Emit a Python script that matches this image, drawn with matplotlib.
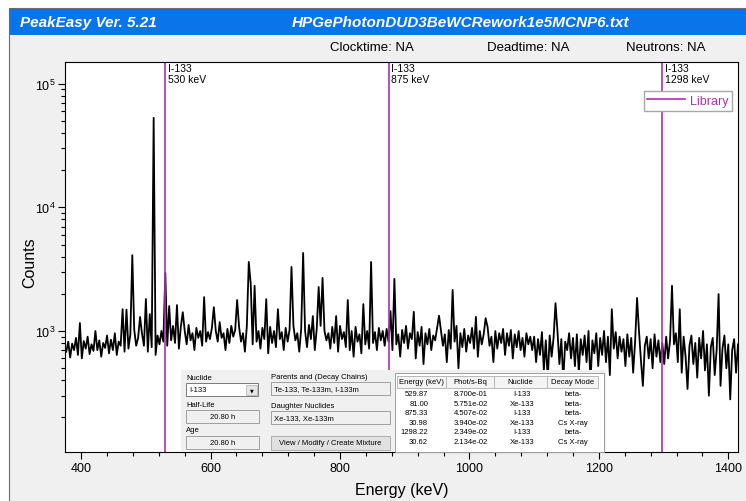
import numpy as np
import matplotlib
matplotlib.use('Agg')
import matplotlib.pyplot as plt
from matplotlib.patches import Rectangle
from matplotlib.lines import Line2D
from matplotlib.ticker import MultipleLocator, LogLocator, NullFormatter

plt.rcParams['font.family'] = ['Liberation Sans', 'DejaVu Sans']
plt.rcParams['mathtext.default'] = 'regular'

# spectrum, 3 keV bins from 377 keV
E_START = 377
E_STEP = 3
baseline_counts = [
    # 377 - 497
    680, 820, 610, 790, 700, 880, 640, 760, 600, 830,
    720, 900, 650, 780, 690, 1000, 700, 840, 620, 800,
    730, 920, 660, 850, 700, 960, 640, 820, 760, 1050,
    680, 880, 720, 940, 650, 1020, 760, 880, 700, 950,
    # 497 - 527
    760, 900, 680, 980, 740, 880, 640, 920, 780, 1000,
    # 527 - 875
    820, 1040, 760, 1000, 840, 1100, 800, 960, 720, 1080, 860, 1000,
    780, 1120, 840, 960, 700, 1060, 880, 1000, 760, 1140, 820, 980,
    860, 1060, 740, 1000, 820, 1180, 880, 960, 700, 1040, 800, 1100,
    900, 1020, 760, 1080, 820, 960, 680, 1100, 880, 1000, 780, 1140,
    820, 1000, 720, 1060, 860, 940, 660, 1080, 800, 1000, 740, 1120,
    860, 980, 700, 1060, 820, 1020, 760, 1100, 840, 960, 680, 1040,
    800, 1000, 740, 1120, 860, 960, 700, 1040, 780, 1100, 640, 1000,
    840, 960, 720, 1080, 800, 1020, 680, 1100, 860, 980, 740, 1040,
    700, 1000, 620, 1080, 820, 940, 660, 1060, 780, 1000, 720, 1120,
    800, 980, 700, 1060, 840, 1000, 760, 1040,
    # 875 - 1097
    820, 1000, 700, 1060, 780, 940, 620, 1020, 800, 1100, 720, 960,
    860, 1000, 600, 980, 760, 1080, 540, 960, 780, 1040, 700, 920,
    840, 1060, 680, 1000, 760, 940, 560, 1020, 720, 980, 820, 1100,
    500, 960, 740, 1040, 680, 920, 800, 1060, 720, 980, 620, 1000,
    780, 940, 660, 1080, 760, 900, 560, 1000, 720, 960, 800, 1040,
    640, 960, 760, 1020, 600, 940, 740, 1000, 700, 880, 620, 960,
    780, 900,
    # 1097 - 1295
    700, 900, 560, 860, 640, 980, 480, 840, 400, 920, 620, 880,
    680, 1000, 540, 860, 400, 820, 700, 960, 600, 880, 520, 940,
    460, 860, 640, 920, 560, 1000, 380, 840, 660, 960, 520, 880,
    640, 1000, 560, 900, 440, 820, 720, 980, 600, 900, 680, 860,
    520, 940, 620, 880, 460, 820, 700, 1000, 580, 360, 760, 900,
    600, 860, 500, 940, 620, 840, 560,
    # 1298 - 1415
    800, 540, 900, 600, 840, 400, 780, 960, 560, 820, 460, 900,
    620, 340, 760, 920, 540, 800, 420, 880, 600, 1000, 480, 780,
    300, 740, 880, 440, 700, 840, 360, 720, 920, 500, 780, 280,
    700, 860, 460, 780,
]
peak_energies = [398, 465, 471, 478, 491, 499, 505, 511, 531, 536, 548, 556,
                 591, 604, 642, 659, 662, 669, 687, 703, 726, 744, 758, 766,
                 774, 795, 811, 837, 848, 877, 885, 913, 954, 974, 1010, 1025,
                 1132, 1221, 1260, 1314, 1325, 1384]
peak_counts = [1160, 1500, 1490, 4100, 1300, 1815, 1370, 53000, 2950, 1590, 1620, 1420,
               1880, 1560, 1780, 3620, 2400, 2320, 1810, 1500, 3300, 4280, 1320, 2270,
               2690, 1320, 1780, 1650, 3620, 1450, 2640, 1430, 1330, 2150, 1300, 1270,
               1680, 1500, 1850, 2320, 1500, 1990]

library_nuclide = 'I-133'
library_energies = [530, 875, 1298]

# library table in the bottom panel
table_header = ['Energy (keV)', 'Phot/s-Bq', 'Nuclide', 'Decay Mode']
table_energy = ['529.87', '81.00', '875.33', '30.98', '1298.22', '30.62']
table_phot = ['8.700e-01', '5.751e-02', '4.507e-02', '3.940e-02', '2.349e-02', '2.134e-02']
table_nuclide = ['I-133', 'Xe-133', 'I-133', 'Xe-133', 'I-133', 'Xe-133']
table_mode = ['beta-', 'beta-', 'beta-', 'Cs X-ray', 'beta-', 'Cs X-ray']

LIB = '#B02EB0'
W, H = 746, 502

energies = E_START + E_STEP * np.arange(len(baseline_counts))
counts = np.array(baseline_counts, dtype=float)
for e, c in zip(peak_energies, peak_counts):
    i = int(round((e - E_START) / E_STEP))
    counts[i] = c

fig = plt.figure(figsize=(W / 100, H / 100), dpi=100, facecolor='#F0F0F0')
ax = fig.add_axes([65 / W, 1 - 453 / H, (738 - 65) / W, (453 - 63) / H])

ax.plot(energies, counts, color='black', lw=1.3)
for e in library_energies:
    ax.axvline(e, color=LIB, lw=1.2)
    ax.annotate(f'{library_nuclide}\n{e} keV', xy=(e, 1), xycoords=('data', 'axes fraction'),
                xytext=(2, -1), textcoords='offset points', ha='left', va='top',
                fontsize=7.5, linespacing=1.05)

ax.set_yscale('log')
ax.set_xlim(375, 1415)
ax.set_ylim(105, 150000)
ax.xaxis.set_major_locator(MultipleLocator(200))
ax.xaxis.set_minor_locator(MultipleLocator(40))
ax.yaxis.set_major_locator(LogLocator(base=10))
ax.yaxis.set_minor_locator(LogLocator(base=10, subs=np.arange(2, 10)))
ax.yaxis.set_minor_formatter(NullFormatter())
ax.tick_params(which='major', length=5, width=0.8, labelsize=9, pad=2)
ax.tick_params(which='minor', length=3, width=0.8)
for s in ax.spines.values():
    s.set_linewidth(0.8)

leg = ax.legend(handles=[Line2D([], [], color=LIB, lw=1.2)], labels=['Library'],
                loc='upper right', bbox_to_anchor=((732 - 65) / 673, (453 - 92) / 390),
                borderaxespad=0, fancybox=False, edgecolor='#A8A8A8', framealpha=1,
                fontsize=9, handlelength=3.0, borderpad=0.3, handletextpad=0.4)
for t in leg.get_texts():
    t.set_color(LIB)

# window chrome, drawn in pixel coordinates on top
ov = fig.add_axes([0, 0, 1, 1], zorder=10)
ov.set_xlim(0, W)
ov.set_ylim(H, 0)
ov.axis('off')

ov.add_patch(Rectangle((0, 0), W, 9, fc='white', ec='none'))
ov.add_patch(Rectangle((0, 0), 9, H, fc='white', ec='none'))
ov.plot([8.5, 8.5, W], [H, 8.5, 8.5], color='#6A6A6A', lw=0.8)
ov.add_patch(Rectangle((9, 9), W - 9, 27, fc='#0A74EA', ec='none'))
ov.text(20, 23, 'PeakEasy Ver. 5.21', color='white', fontsize=11, fontweight='bold',
        fontstyle='italic', va='center', ha='left')
ov.text(461, 23, 'HPGePhotonDUD3BeWCRework1e5MCNP6.txt', color='white', fontsize=11,
        fontweight='bold', fontstyle='italic', va='center', ha='center')
for x, s in [(330, 'Clocktime: NA'), (487, 'Deadtime: NA'), (626, 'Neutrons: NA')]:
    ov.text(x, 48, s, fontsize=9.5, va='center', ha='left')

ov.text(30, 263, 'Counts', rotation=90, fontsize=11.5, ha='center', va='center')
ov.text(402, 491, 'Energy (keV)', fontsize=11.5, ha='center', va='center')

# nuclide panel
fs = 5.5
ov.add_patch(Rectangle((181, 371), 425, 81.5, fc='#F0F0F0', ec='none'))


def box(x, y, w, h, fc='#F0F0F0', ec='#A0A0A0'):
    ov.add_patch(Rectangle((x, y), w, h, fc=fc, ec=ec, lw=0.7))


ov.text(186, 379, 'Nuclide', fontsize=fs, va='center')
box(186, 384, 72, 13, fc='white', ec='#7A7A7A')
ov.text(189, 390.5, 'I-133', fontsize=fs, va='center')
box(246, 385.5, 11, 10, fc='#E6E6E6', ec='#C0C0C0')
ov.text(251.5, 390.5, '\u25bc', fontsize=3.5, va='center', ha='center', family='DejaVu Sans')
ov.text(186, 406, 'Half-Life', fontsize=fs, va='center')
box(186, 411, 73, 13)
ov.text(222.5, 417.5, '20.80 h', fontsize=fs, va='center', ha='center')
ov.text(186, 431, 'Age', fontsize=fs, va='center')
box(186, 437, 73, 13)
ov.text(222.5, 443.5, '20.80 h', fontsize=fs, va='center', ha='center')

ov.text(271, 378, 'Parents and (Decay Chains)', fontsize=fs, va='center')
box(271, 383, 119, 13)
ov.text(274, 389.5, 'Te-133, Te-133m, I-133m', fontsize=fs, va='center')
ov.text(271, 407, 'Daughter Nuclides', fontsize=fs, va='center')
box(271, 412, 119, 13)
ov.text(274, 418.5, 'Xe-133, Xe-133m', fontsize=fs, va='center')
box(271, 437, 119, 14, fc='#E1E1E1', ec='#ADADAD')
ov.text(330.5, 444, 'View / Modify / Create Mixture', fontsize=fs, va='center', ha='center')

# table
box(395, 374, 209, 79, fc='white', ec='#A0A0A0')
col_edges = [397, 446, 494, 547, 598]
for i, name in enumerate(table_header):
    x0, x1 = col_edges[i], col_edges[i + 1]
    box(x0, 377, x1 - x0, 11.5, fc='#F4F4F4', ec='#B8B8B8')
    ov.text((x0 + x1) / 2, 383, name, fontsize=fs, va='center', ha='center')
for r in range(len(table_energy)):
    y = 394.5 + r * 9.6
    ov.text(428, y, table_energy[r], fontsize=fs, va='center', ha='right')
    ov.text(471, y, table_phot[r], fontsize=fs, va='center', ha='center')
    ov.text(522, y, table_nuclide[r], fontsize=fs, va='center', ha='center')
    ov.text(573, y, table_mode[r], fontsize=fs, va='center', ha='center')

fig.savefig('out.png', dpi=100)
